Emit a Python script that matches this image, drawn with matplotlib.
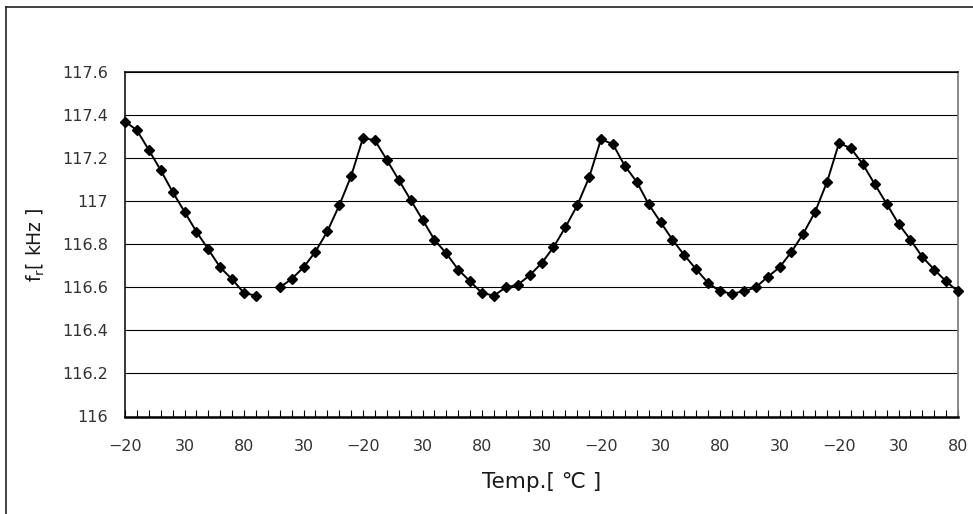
import numpy as np
import matplotlib
matplotlib.use("Agg")
import matplotlib.pyplot as plt
from matplotlib.lines import Line2D

plt.rcParams['font.family'] = ['DejaVu Sans', 'Noto Sans CJK KR']

# Temperature sequence (categories): -20 -> 80 -> -20 -> 80 ... step 10
temps = ([-20, -10, 0, 10, 20, 30, 40, 50, 60, 70, 80] +
         [70, 60, 50, 40, 30, 20, 10, 0, -10, -20] +
         [-10, 0, 10, 20, 30, 40, 50, 60, 70, 80] +
         [70, 60, 50, 40, 30, 20, 10, 0, -10, -20] +
         [-10, 0, 10, 20, 30, 40, 50, 60, 70, 80] +
         [70, 60, 50, 40, 30, 20, 10, 0, -10, -20] +
         [-10, 0, 10, 20, 30, 40, 50, 60, 70, 80])

fr_khz = [117.371, 117.331, 117.239, 117.145, 117.044, 116.952, 116.859, 116.777,
          116.693, 116.638, 116.574, 116.562, np.nan, 116.600, 116.639, 116.693,
          116.766, 116.860, 116.981, 117.117, 117.295, 117.284, 117.193, 117.100,
          117.007, 116.915, 116.822, 116.758, 116.683, 116.628, 116.574, 116.562,
          116.600, 116.612, 116.656, 116.712, 116.786, 116.879, 116.981, 117.111,
          117.289, 117.266, 117.165, 117.091, 116.987, 116.904, 116.822, 116.750,
          116.684, 116.621, 116.582, 116.571, 116.582, 116.600, 116.649, 116.693,
          116.765, 116.850, 116.952, 117.091, 117.271, 117.247, 117.173, 117.080,
          116.989, 116.896, 116.822, 116.742, 116.683, 116.628, 116.582]

y_ticks = [116, 116.2, 116.4, 116.6, 116.8, 117, 117.2, 117.4, 117.6]
label_every = 5

W, H = 973, 514
fig = plt.figure(figsize=(W / 100, H / 100), dpi=100)
ax = fig.add_axes([125 / W, 1 - 416.5 / H, (958 - 125) / W, (416.5 - 72.3) / H])

x = np.arange(len(temps))
ax.plot(x, fr_khz, color='black', lw=1.4, marker='D', markersize=5.5,
        markerfacecolor='black', markeredgecolor='black', zorder=3, clip_on=False)

ax.set_xlim(0, len(temps) - 1)
ax.set_ylim(116, 117.6)
ax.set_yticks(y_ticks)
ax.set_yticklabels(['%g' % v for v in y_ticks])
ax.yaxis.grid(True, color='black', lw=0.8)
ax.set_axisbelow(True)

ax.set_xticks(x)
labels = [(('−%d' % -t) if t < 0 else '%d' % t) if i % label_every == 0 else ''
          for i, t in enumerate(temps)]
ax.set_xticklabels(labels)
ax.tick_params(axis='x', direction='in', length=5, width=0.8, pad=16, labelsize=11.5,
               labelcolor='#333333')
ax.tick_params(axis='y', length=0, pad=12, labelsize=11.5, labelcolor='#333333')

for s in ['left', 'top']:
    ax.spines[s].set_color('black')
    ax.spines[s].set_linewidth(1.1)
ax.spines['bottom'].set_color('black')
ax.spines['bottom'].set_linewidth(1.8)
ax.spines['right'].set_color('#808080')
ax.spines['right'].set_linewidth(1.3)

ax.set_xlabel('Temp.[ ℃ ]', fontsize=15.5, labelpad=13, color='#1a1a1a')
ax.set_ylabel('f$_\\mathregular{r}$[ kHz ]', fontsize=13.5, labelpad=11, color='#1a1a1a')

# outer chart frame (top and left edges visible)
fig.add_artist(Line2D([5.5 / W, 5.5 / W], [0, 1 - 6.5 / H], transform=fig.transFigure,
                      color='#222222', lw=1.2))
fig.add_artist(Line2D([5.5 / W, 1], [1 - 6.5 / H, 1 - 6.5 / H], transform=fig.transFigure,
                      color='#222222', lw=1.2))

fig.savefig('out.png', dpi=100)
